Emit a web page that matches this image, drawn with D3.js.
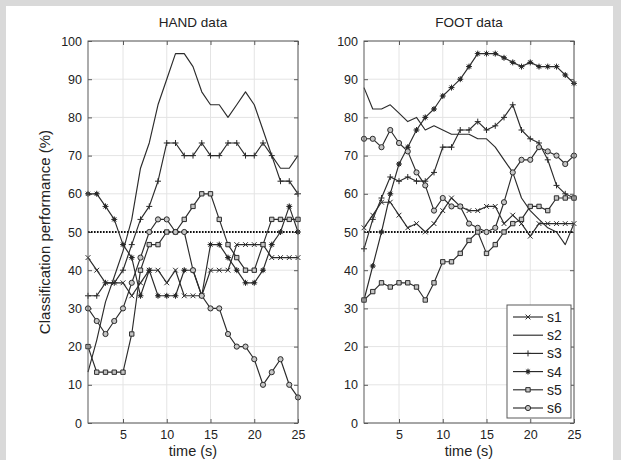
<!DOCTYPE html>
<html>
<head>
<meta charset="utf-8">
<script src="https://cdn.jsdelivr.net/npm/d3@7"></script>
<style>
  html, body { margin: 0; padding: 0; background: #d9d9d9; }
  svg { display: block; font-family: "Liberation Sans", Arial, Helvetica, sans-serif; }
</style>
</head>
<body>
<svg id="chart" width="621" height="460"></svg>
<script>
// ---- data -------------------------------------------------------------
const times = d3.range(1, 26);              // time (s), 1..25
const seriesNames = ["s1", "s2", "s3", "s4", "s5", "s6"];
const markerKinds = ["x", "none", "plus", "star", "square", "circle"];
const xTickValues = [5, 10, 15, 20, 25];
const yTickValues = d3.range(0, 101, 10);
const chanceLevel = 50;
const panelTitles = ["HAND data", "FOOT data"];
const xLabel = "time (s)";
const yLabel = "Classification performance (%)";

// HAND data, classification performance (%) per subject
const handS1 = [43.3, 40, 36.7, 36.7, 36.7, 33.3, 36.7, 40, 40, 36.7, 40, 33.3, 33.3, 33.3, 40, 40, 40, 46.7, 46.7, 46.7, 46.7, 43.3, 43.3, 43.3, 43.3];
const handS2 = [13.3, 21.7, 31.7, 38.3, 45, 53.3, 66.7, 73.3, 83.3, 90, 96.7, 96.7, 93.3, 86.7, 83.3, 83.3, 80, 83.3, 86.7, 83.3, 76.7, 70, 66.7, 66.7, 70];
const handS3 = [33.3, 33.3, 36.7, 36.7, 40, 46.7, 53.3, 56.7, 63.3, 73.3, 73.3, 70, 70, 73.3, 70, 70, 73.3, 73.3, 70, 70, 73.3, 70, 63.3, 63.3, 60];
const handS4 = [60, 60, 56.7, 53.3, 46.7, 43.3, 33.3, 40, 33.3, 33.3, 33.3, 40, 40, 33.3, 46.7, 46.7, 43.3, 40, 36.7, 36.7, 40, 46.7, 50, 56.7, 50];
const handS5 = [20, 13.3, 13.3, 13.3, 13.3, 23.3, 40, 46.7, 46.7, 50, 50, 53.3, 56.7, 60, 60, 53.3, 46.7, 43.3, 40, 40, 46.7, 53.3, 53.3, 53.3, 53.3];
const handS6 = [30, 26.7, 23.3, 26.7, 30, 36.7, 43.3, 50, 53.3, 53.3, 50, 50, 40, 33.3, 30, 30, 23.3, 20, 20, 16.7, 10, 13.3, 16.7, 10, 6.7];

// FOOT data, classification performance (%) per subject
const footS1 = [51.1, 54.4, 57.8, 57.8, 54.4, 51.1, 52.2, 50, 52.2, 55.6, 58.9, 56.7, 55.6, 55.6, 56.7, 56.7, 52.2, 54.4, 52.2, 48.9, 52.2, 52.2, 52.2, 52.2, 52.2];
const footS2 = [87.8, 82.2, 82.2, 83.3, 81.1, 78.9, 80, 76.7, 77.8, 76.7, 75.6, 75.6, 75.6, 74.4, 74.4, 72.2, 68.9, 65.6, 58.9, 55.6, 53.3, 51.1, 50, 46.7, 52.2];
const footS3 = [45.6, 53.3, 58.9, 64.4, 63.3, 64.4, 63.3, 63.3, 65.6, 72.2, 72.2, 76.7, 76.7, 78.9, 76.7, 77.8, 80, 83.3, 76.7, 74.4, 73.3, 68.9, 62.2, 60, 58.9];
const footS4 = [32.2, 41.1, 50, 60, 67.8, 72.2, 76.7, 80, 82.2, 85.6, 87.8, 90, 93.3, 96.7, 96.7, 96.7, 95.6, 94.4, 93.3, 94.4, 93.3, 93.3, 93.3, 91.1, 88.9];
const footS5 = [32.2, 34.4, 36.7, 35.6, 36.7, 36.7, 35.6, 32.2, 36.7, 42.2, 42.2, 44.4, 47.8, 50, 44.4, 46.7, 50, 52.2, 53.3, 56.7, 56.7, 55.6, 58.9, 58.9, 58.9];
const footS6 = [74.4, 74.4, 72.2, 76.7, 73.3, 71.1, 65.6, 62.2, 55.6, 58.9, 56.7, 56.7, 52.2, 51.1, 50, 51.1, 57.8, 65.6, 68.9, 68.9, 72.2, 71.1, 70, 67.8, 70];

const handSeries = [handS1, handS2, handS3, handS4, handS5, handS6];
const footSeries = [footS1, footS2, footS3, footS4, footS5, footS6];

// ---- layout -----------------------------------------------------------
const svg = d3.select("#chart");
const W = 621, H = 460;
const inkColor = "#2b2b2b";
const axisColor = "#5a5a5a";
const gridColor = "#e4e4e4";

svg.append("rect").attr("width", W).attr("height", H).attr("fill", "#d9d9d9");
svg.append("rect").attr("x", 6).attr("y", 6).attr("width", 607).attr("height", H - 6).attr("fill", "#fff");

const y = d3.scaleLinear().domain([0, 100]).range([423, 41]);
const panels = [
  { title: panelTitles[0], data: handSeries, x: d3.scaleLinear().domain([1, 25]).range([88, 298]), legend: false },
  { title: panelTitles[1], data: footSeries, x: d3.scaleLinear().domain([1, 25]).range([364, 574]), legend: true }
];

// marker shapes drawn around (0,0)
function markerPath(kind) {
  switch (kind) {
    case "x": return "M-2.4,-2.4L2.4,2.4M-2.4,2.4L2.4,-2.4";
    case "plus": return "M-3,0L3,0M0,-3L0,3";
    case "star": return "M-3,0L3,0M0,-3L0,3M-2.1,-2.1L2.1,2.1M-2.1,2.1L2.1,-2.1";
    case "square": return d3.symbol(d3.symbolSquare, 19)();
    case "circle": return d3.symbol(d3.symbolCircle, 21)();
    default: return null;
  }
}

function drawMarker(g, kind, cx, cy) {
  if (kind === "none") return;
  const m = g.append("g").attr("transform", `translate(${cx},${cy})`);
  if (kind === "star") {
    m.append("circle").attr("r", 1.8).attr("fill", "#1a1a1a");
  }
  m.append("path")
    .attr("d", markerPath(kind))
    .attr("fill", (kind === "square" || kind === "circle") ? "#c4c4c4" : "none")
    .attr("stroke", inkColor)
    .attr("stroke-width", 1);
}

panels.forEach(p => {
  const x = p.x;
  const [x0, x1] = x.range();
  const [yb, yt] = y.range();
  const g = svg.append("g");

  // grid
  g.append("g").selectAll("line").data(xTickValues).join("line")
    .attr("x1", d => x(d)).attr("x2", d => x(d)).attr("y1", yb).attr("y2", yt)
    .attr("stroke", gridColor).attr("stroke-width", 1);
  g.append("g").selectAll("line").data(yTickValues).join("line")
    .attr("x1", x0).attr("x2", x1).attr("y1", d => y(d)).attr("y2", d => y(d))
    .attr("stroke", gridColor).attr("stroke-width", 1);

  // axes with inward ticks on all four sides
  const styleAxis = sel => {
    sel.select(".domain").remove();
    sel.selectAll(".tick line").attr("stroke", axisColor);
    sel.selectAll(".tick text").attr("fill", "#222").style("font-size", "12.5px")
      .style("font-family", '"Liberation Sans", Arial, sans-serif');
  };
  g.append("g").attr("transform", `translate(${x0},0)`)
    .call(d3.axisLeft(y).tickValues(yTickValues).tickSize(-4).tickPadding(6)).call(styleAxis);
  g.append("g").attr("transform", `translate(0,${yb})`)
    .call(d3.axisBottom(x).tickValues(xTickValues).tickSize(-4).tickPadding(7)).call(styleAxis);
  g.append("g").attr("transform", `translate(${x1},0)`)
    .call(d3.axisRight(y).tickValues(yTickValues).tickSize(-4).tickFormat("")).call(styleAxis);
  g.append("g").attr("transform", `translate(0,${yt})`)
    .call(d3.axisTop(x).tickValues(xTickValues).tickSize(-4).tickFormat("")).call(styleAxis);

  // chance level
  g.append("line")
    .attr("x1", x(1)).attr("x2", x(25)).attr("y1", y(chanceLevel)).attr("y2", y(chanceLevel))
    .attr("stroke", "#111").attr("stroke-width", 2).attr("stroke-dasharray", "1.6,1.4");

  // series lines and markers
  const line = d3.line().x((d, i) => x(times[i])).y(d => y(d));
  p.data.forEach((vals, si) => {
    g.append("path").datum(vals).attr("d", line)
      .attr("fill", "none").attr("stroke", inkColor).attr("stroke-width", 1.15)
      .attr("stroke-linejoin", "round");
    const mg = g.append("g");
    vals.forEach((v, i) => drawMarker(mg, markerKinds[si], x(times[i]), y(v)));
  });

  // box
  g.append("rect").attr("x", x0).attr("y", yt).attr("width", x1 - x0).attr("height", yb - yt)
    .attr("fill", "none").attr("stroke", axisColor).attr("stroke-width", 1);

  // titles
  g.append("text").attr("x", (x0 + x1) / 2).attr("y", 27).attr("text-anchor", "middle")
    .attr("fill", "#222").style("font-size", "13.5px").text(p.title);
  g.append("text").attr("x", (x0 + x1) / 2).attr("y", 456).attr("text-anchor", "middle")
    .attr("fill", "#222").style("font-size", "14.5px").text(xLabel);

  // legend
  if (p.legend) {
    const lx = 507, ly = 305, lw = 64, lh = 113;
    const lg = g.append("g");
    lg.append("rect").attr("x", lx).attr("y", ly).attr("width", lw).attr("height", lh)
      .attr("fill", "#fff").attr("stroke", axisColor).attr("stroke-width", 1);
    seriesNames.forEach((name, i) => {
      const yy = ly + 12 + i * 18.2;
      lg.append("line").attr("x1", lx + 6).attr("x2", lx + 36).attr("y1", yy).attr("y2", yy)
        .attr("stroke", inkColor).attr("stroke-width", 1.15);
      drawMarker(lg, markerKinds[i], lx + 21, yy);
      lg.append("text").attr("x", lx + 40).attr("y", yy).attr("dy", "0.35em")
        .attr("fill", "#222").style("font-size", "14px").text(name);
    });
  }
});

// shared y label
svg.append("text")
  .attr("transform", `translate(50,${(y(0) + y(100)) / 2}) rotate(-90)`)
  .attr("text-anchor", "middle")
  .attr("fill", "#222").style("font-size", "15px").text(yLabel);
</script>
</body>
</html>
